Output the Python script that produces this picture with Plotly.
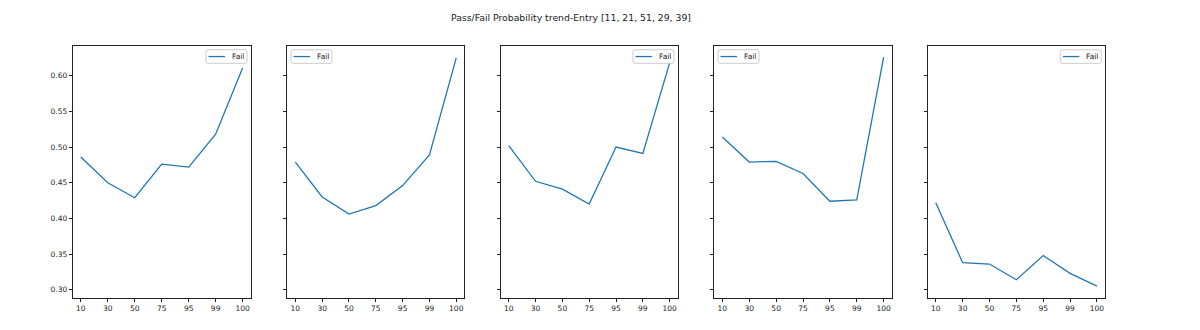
import plotly.graph_objects as go

# Probability categories on the x axis
categories = ["10", "30", "50", "75", "95", "99", "100"]

# Fail probability per entry
entries = [11, 21, 51, 29, 39]
fail_11 = [0.486, 0.450, 0.429, 0.476, 0.472, 0.518, 0.611]
fail_21 = [0.479, 0.430, 0.406, 0.418, 0.446, 0.489, 0.625]
fail_51 = [0.502, 0.452, 0.441, 0.420, 0.500, 0.491, 0.618]
fail_29 = [0.514, 0.479, 0.480, 0.463, 0.424, 0.426, 0.626]
fail_39 = [0.422, 0.338, 0.336, 0.314, 0.348, 0.323, 0.305]
series = [fail_11, fail_21, fail_51, fail_29, fail_39]
series_name = "Fail"

W, H = 1200, 330
FONT = "DejaVu Sans"
LINE_COLOR = "#1f77b4"

# panel boxes in pixels (left, right); shared top/bottom
panel_x = [(72.7, 250.7), (287.3, 464.3), (500.7, 677.7), (714.3, 891.7), (927.7, 1105.0)]
top_px, bottom_px = 46.0, 297.7
# legend corner inside each panel
legend_side = ["right", "left", "right", "left", "right"]


def px(x):
    return x / W


def py(y):
    return 1 - y / H


def rounded_rect(x0, y0, x1, y1, r):
    # path in paper coordinates built from pixel corners
    pts = [
        f"M {px(x0 + r)},{py(y0)}",
        f"L {px(x1 - r)},{py(y0)}",
        f"Q {px(x1)},{py(y0)} {px(x1)},{py(y0 + r)}",
        f"L {px(x1)},{py(y1 - r)}",
        f"Q {px(x1)},{py(y1)} {px(x1 - r)},{py(y1)}",
        f"L {px(x0 + r)},{py(y1)}",
        f"Q {px(x0)},{py(y1)} {px(x0)},{py(y1 - r)}",
        f"L {px(x0)},{py(y0 + r)}",
        f"Q {px(x0)},{py(y0)} {px(x0 + r)},{py(y0)}",
        "Z",
    ]
    return " ".join(pts)


fig = go.Figure()
layout = {}
shapes = []
annotations = []
for i, (vals, (x0, x1), side) in enumerate(zip(series, panel_x, legend_side)):
    n = "" if i == 0 else str(i + 1)
    fig.add_trace(go.Scatter(
        x=categories, y=vals, mode="lines", name=series_name,
        line=dict(color=LINE_COLOR, width=1.3),
        xaxis="x" + n, yaxis="y" + n, showlegend=False,
    ))
    axis_common = dict(
        showline=True, mirror=True, linecolor="#222222", linewidth=1,
        ticks="outside", ticklen=3, tickwidth=0.8, tickcolor="#222222",
        showgrid=False, zeroline=False,
        tickfont=dict(family=FONT, size=7.5, color="#222222"),
    )
    layout["xaxis" + n] = dict(
        axis_common, type="category", categoryorder="array", categoryarray=categories,
        range=[-0.3, 6.3], domain=[px(x0), px(x1)], anchor="y" + n,
    )
    layout["yaxis" + n] = dict(
        axis_common, range=[0.2888, 0.6417], domain=[py(bottom_px), py(top_px)],
        anchor="x" + n, tickvals=[0.30, 0.35, 0.40, 0.45, 0.50, 0.55, 0.60],
        tickformat=".2f", showticklabels=(i == 0),
    )
    if i > 0:
        layout["yaxis" + n]["matches"] = "y"

    # per-panel legend box
    bw, bh = 41, 13.5
    bx0 = x1 - 3.7 - bw if side == "right" else x0 + 3.7
    by0 = top_px + 3.8
    shapes.append(dict(
        type="path", xref="paper", yref="paper", layer="above",
        path=rounded_rect(bx0, by0, bx0 + bw, by0 + bh, 2),
        fillcolor="rgba(255,255,255,0.8)", line=dict(color="#cccccc", width=1),
    ))
    ymid = by0 + bh / 2
    shapes.append(dict(
        type="line", xref="paper", yref="paper", layer="above",
        x0=px(bx0 + 2.5), x1=px(bx0 + 19), y0=py(ymid), y1=py(ymid),
        line=dict(color=LINE_COLOR, width=1.3),
    ))
    annotations.append(dict(
        text=series_name, x=px(bx0 + 23.5), y=py(ymid), xref="paper", yref="paper",
        xanchor="left", yanchor="middle", showarrow=False,
        font=dict(family=FONT, size=7.5, color="#222222"),
    ))

annotations.append(dict(
    text="Pass/Fail Probability trend-Entry [" + ", ".join(str(e) for e in entries) + "]",
    x=px(571), y=py(17), xref="paper", yref="paper",
    xanchor="center", yanchor="middle", showarrow=False,
    font=dict(family=FONT, size=9.3, color="#222222"),
))

fig.update_layout(
    **layout,
    width=W, height=H,
    margin=dict(l=0, r=0, t=0, b=0),
    paper_bgcolor="white", plot_bgcolor="white",
    font=dict(family=FONT, size=7.5, color="#222222"),
    shapes=shapes,
    annotations=annotations,
)

fig.write_html("out.html")
